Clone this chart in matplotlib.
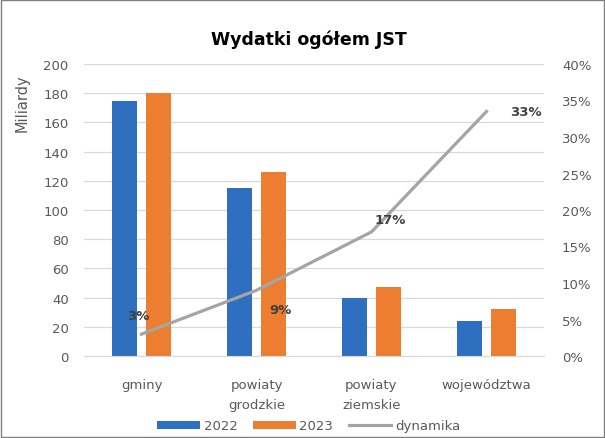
import numpy as np
import matplotlib.pyplot as plt
from matplotlib.patches import Rectangle

plt.rcParams['font.family'] = ['DejaVu Sans']

# Data
categories = ["gminy", "powiaty\ngrodzkie", "powiaty\nziemskie", "województwa"]
wyd_2022 = [175, 115, 40, 24]
wyd_2023 = [180, 126, 47, 32]
dynamika = [0.03, 0.09, 0.17, 0.335]
dyn_labels = ["3%", "9%", "17%", "33%"]
label_offsets = [(-3, 19), (24, -19), (19, 12), (39, 0)]

blue = "#2e6fc0"
orange = "#ed7d31"
grey_line = "#a5a5a5"
txt = "#595959"
fs = 9.5

W, H = 605, 439
fig = plt.figure(figsize=(W / 100, H / 100), dpi=100)
ax = fig.add_axes([84 / W, (H - 357) / H, 460 / W, 292 / H])

x = np.arange(len(categories))
w = 0.225
b1 = ax.bar(x - 0.148, wyd_2022, w, color=blue, label="2022", zorder=2)
b2 = ax.bar(x + 0.148, wyd_2023, w, color=orange, label="2023", zorder=2)

ax.set_xlim(-0.5, 3.5)
ax.set_ylim(0, 200)
ax.set_yticks(range(0, 201, 20))
ax.grid(axis="y", color="#d9d9d9", linewidth=0.9, zorder=0)
ax.set_axisbelow(True)
for s in ["top", "right", "left"]:
    ax.spines[s].set_visible(False)
ax.spines["bottom"].set_color("#d9d9d9")
ax.set_xticks(x)
ax.set_xticklabels(categories, fontsize=fs, color=txt, linespacing=1.7)
ax.tick_params(axis="both", length=0, colors=txt, labelsize=fs)
ax.tick_params(axis="x", pad=16)
ax.tick_params(axis="y", pad=11)

ax2 = ax.twinx()
ax2.set_ylim(0, 0.40)
pct_ticks = np.arange(0, 0.41, 0.05)
ax2.set_yticks(pct_ticks)
ax2.set_yticklabels([f"{int(round(v * 100))}%" for v in pct_ticks])
ax2.tick_params(axis="y", length=0, colors=txt, labelsize=fs, pad=13)
for s in ax2.spines.values():
    s.set_visible(False)
ln, = ax2.plot(x, dynamika, color=grey_line, linewidth=2.3, label="dynamika", zorder=3)
for xi, yi, lab, off in zip(x, dynamika, dyn_labels, label_offsets):
    ax2.annotate(lab, (xi, yi), xytext=off, textcoords="offset pixels",
                 ha="center", va="center", fontsize=fs, fontweight="bold",
                 color="#404040")

fig.text(309 / W, 1 - 40 / H, "Wydatki ogółem JST", ha="center", va="center",
         fontsize=12.5, fontweight="bold", color="#000000")
fig.text(22 / W, 1 - 103 / H, "Miliardy", rotation=90, ha="center", va="center",
         fontsize=10.5, color=txt)

fig.legend(handles=[b1, b2, ln], loc="center", bbox_to_anchor=(309 / W, 1 - 427 / H),
           ncol=3, frameon=False, fontsize=fs, handlelength=3.2, handleheight=0.5,
           columnspacing=1.2, handletextpad=0.3, labelcolor=txt)

fig.add_artist(Rectangle((1 / W, 1 / H), (W - 2) / W, (H - 2) / H, transform=fig.transFigure,
                         fill=False, edgecolor="#7f7f7f", linewidth=1))

fig.savefig("out.png", dpi=100)
